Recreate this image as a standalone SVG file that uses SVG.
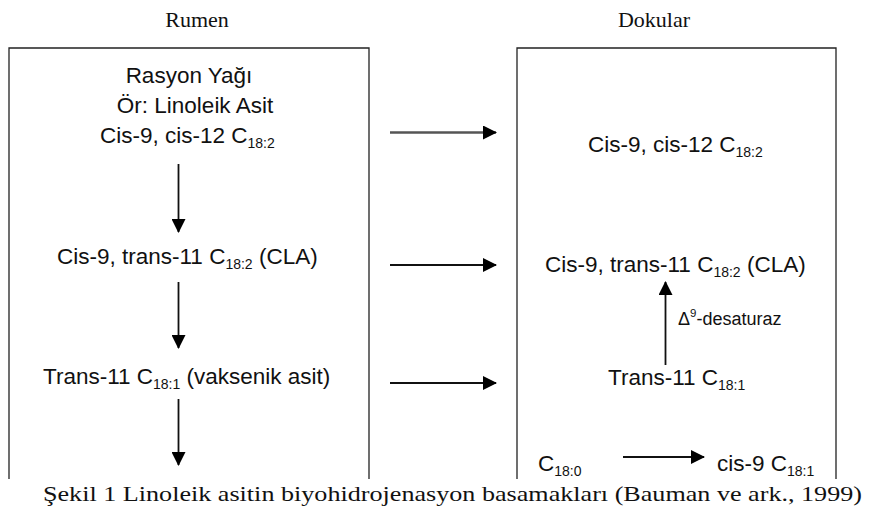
<svg xmlns="http://www.w3.org/2000/svg" width="880" height="513" viewBox="0 0 880 513">
<style>
.t{font-family:"Liberation Sans",Arial,sans-serif;font-size:22.5px;fill:#111}
.s{font-size:14px}
.h{font-family:"Liberation Serif","Times New Roman",serif;font-size:22px;fill:#111}
.cap{font-family:"Liberation Serif","Times New Roman",serif;font-size:22px;fill:#111}
.box{fill:none;stroke:#222;stroke-width:1.3}
.ar{stroke:#111;stroke-width:1.8;fill:none}
.arh{stroke:#555;stroke-width:2.4;fill:none}
</style>
<defs>
<marker id="ah" viewBox="0 0 14 14" refX="13" refY="7" markerWidth="14" markerHeight="14" markerUnits="userSpaceOnUse" orient="auto">
<path d="M0,0 L14,7 L0,14 Z" fill="#000"/>
</marker>
</defs>
<rect width="880" height="513" fill="#fff"/>
<g id="titles">
<text class="h" x="197" y="26.5" text-anchor="middle">Rumen</text>
<text class="h" x="654" y="26.5" text-anchor="middle">Dokular</text>
</g>
<g id="rumen-box">
<path class="box" d="M9,479 V48 H369 V479"/>
</g>
<g id="dokular-box">
<path class="box" d="M517,479 V48 H836 V479"/>
</g>
<g id="n-rasyon">
<text class="t" x="189" y="83" text-anchor="middle">Rasyon Yağı</text>
<text class="t" x="195" y="113" text-anchor="middle">Ör: Linoleik Asit</text>
<text class="t" x="100" y="143">Cis-9, cis-12 C<tspan class="s" dy="5">18:2</tspan></text>
</g>
<g id="n-cla-r">
<text class="t" x="57" y="264">Cis-9, trans-11 C<tspan class="s" dy="5">18:2</tspan><tspan dy="-5"> (CLA)</tspan></text>
</g>
<g id="n-trans-r">
<text class="t" x="43" y="384">Trans-11 C<tspan class="s" dy="5">18:1</tspan><tspan dy="-5"> (vaksenik asit)</tspan></text>
</g>
<g id="n-cis12-d">
<text class="t" x="588" y="152">Cis-9, cis-12 C<tspan class="s" dy="5">18:2</tspan></text>
</g>
<g id="n-cla-d">
<text class="t" x="545" y="272">Cis-9, trans-11 C<tspan class="s" dy="5">18:2</tspan><tspan dy="-5"> (CLA)</tspan></text>
</g>
<g id="n-trans-d">
<text class="t" x="608" y="385">Trans-11 C<tspan class="s" dy="5">18:1</tspan></text>
</g>
<g id="n-c180">
<text class="t" x="538" y="471">C<tspan class="s" dy="5">18:0</tspan></text>
</g>
<g id="n-cis9">
<text class="t" x="717" y="471">cis-9 C<tspan class="s" dy="5">18:1</tspan></text>
</g>
<g id="connectors">
<line class="ar" x1="178.5" y1="164" x2="178.5" y2="232" marker-end="url(#ah)"/>
<line class="ar" x1="178.5" y1="282" x2="178.5" y2="348" marker-end="url(#ah)"/>
<line class="ar" x1="178.5" y1="399" x2="178.5" y2="465" marker-end="url(#ah)"/>
<line class="arh" x1="390" y1="132.5" x2="496" y2="132.5" marker-end="url(#ah)"/>
<line class="ar" x1="390" y1="265" x2="496" y2="265" marker-end="url(#ah)"/>
<line class="ar" x1="390" y1="383" x2="496" y2="383" marker-end="url(#ah)"/>
<line class="ar" x1="665.5" y1="365" x2="665.5" y2="282" marker-end="url(#ah)"/>
<line class="ar" x1="623" y1="457" x2="704" y2="457" marker-end="url(#ah)"/>
<text class="t" x="678" y="325" style="font-size:18px">Δ<tspan style="font-size:11.5px" dy="-8">9</tspan><tspan dy="8">-desaturaz</tspan></text>
</g>
<g id="caption">
<rect x="0" y="480" width="880" height="33" fill="#fff"/>
<text class="cap" x="43" y="501" textLength="819" lengthAdjust="spacingAndGlyphs">Şekil 1 Linoleik asitin biyohidrojenasyon basamakları (Bauman ve ark., 1999)</text>
</g>
</svg>
